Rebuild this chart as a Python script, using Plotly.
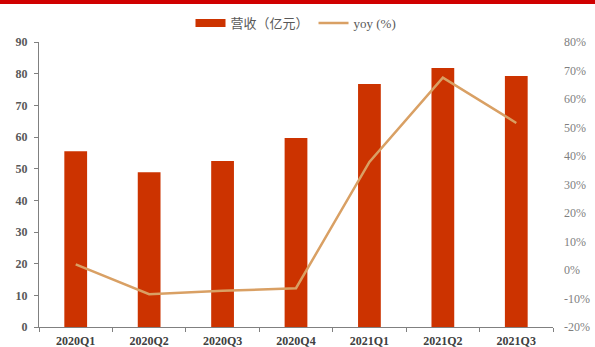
import plotly.graph_objects as go

quarters = ["2020Q1", "2020Q2", "2020Q3", "2020Q4", "2021Q1", "2021Q2", "2021Q3"]
revenue = [55.5, 48.9, 52.4, 59.7, 76.7, 81.8, 79.3]      # 亿元
yoy = [2.0, -8.5, -7.3, -6.4, 37.9, 67.5, 51.6]            # %

left_ticks = [0, 10, 20, 30, 40, 50, 60, 70, 80, 90]
right_ticks = [-20, -10, 0, 10, 20, 30, 40, 50, 60, 70, 80]

W, H = 595, 347
ML, MR, MT, MB = 39, 42, 42, 20
plot_h = H - MT - MB
plot_w = W - ML - MR

serif = "Liberation Serif, Times New Roman, serif"
grey = "#595959"
bar_color = "#CC3300"

fig = go.Figure()
fig.add_trace(go.Bar(
    x=quarters, y=revenue, name="营收（亿元）",
    marker=dict(color=bar_color, line=dict(width=0)),
    yaxis="y", showlegend=False,
))
# legend key drawn as a wide block for the revenue series
fig.add_trace(go.Scatter(
    x=[None], y=[None], name="营收（亿元）", mode="lines",
    line=dict(color=bar_color, width=8), yaxis="y",
))
fig.add_trace(go.Scatter(
    x=quarters, y=yoy, name="yoy (%)", mode="lines",
    line=dict(color="#D9A064", width=2.5),
    yaxis="y2",
))

fig.update_layout(
    width=W, height=H,
    margin=dict(l=ML, r=MR, t=MT, b=MB, autoexpand=False),
    paper_bgcolor="white", plot_bgcolor="white",
    bargap=0.69,
    showlegend=True,
    legend=dict(
        orientation="h", x=0.5, xanchor="center", y=1 + (MT - 23) / plot_h, yanchor="middle",
        font=dict(family=serif + ", Noto Sans CJK SC", size=13, color=grey),
        itemwidth=30, tracegroupgap=0, bgcolor="rgba(0,0,0,0)",
    ),
    xaxis=dict(
        type="category", showline=True, linecolor="#808080", linewidth=1,
        ticks="outside", ticklen=4, tickcolor="#808080", tickson="boundaries",
        ticklabelstandoff=3,
        tickfont=dict(family=serif, size=12, color="#404040", weight="bold"),
        showgrid=False, zeroline=False, automargin=False,
    ),
    yaxis=dict(
        range=[0, 90], tickvals=left_ticks, showline=True, linecolor="#808080", linewidth=1,
        ticks="outside", ticklen=4, tickcolor="#808080", ticklabelstandoff=4,
        tickfont=dict(family=serif, size=12, color=grey, weight="bold"),
        showgrid=False, zeroline=False, automargin=False,
    ),
    yaxis2=dict(
        range=[-20, 80], tickvals=right_ticks, ticktext=[f"{v}%" for v in right_ticks],
        overlaying="y", side="right", showline=False, ticks="", color="#7f7f7f",
        ticklabelstandoff=10,
        tickfont=dict(family=serif, size=12, color="#7f7f7f"),
        showgrid=False, zeroline=False, automargin=False,
    ),
    shapes=[dict(
        type="rect", xref="paper", yref="paper",
        x0=-ML / plot_w, x1=1 + MR / plot_w,
        y0=1 + (MT - 4) / plot_h, y1=1 + MT / plot_h,
        fillcolor="#D00000", line=dict(width=0), layer="above",
    )],
)

fig.write_html("out.html")
